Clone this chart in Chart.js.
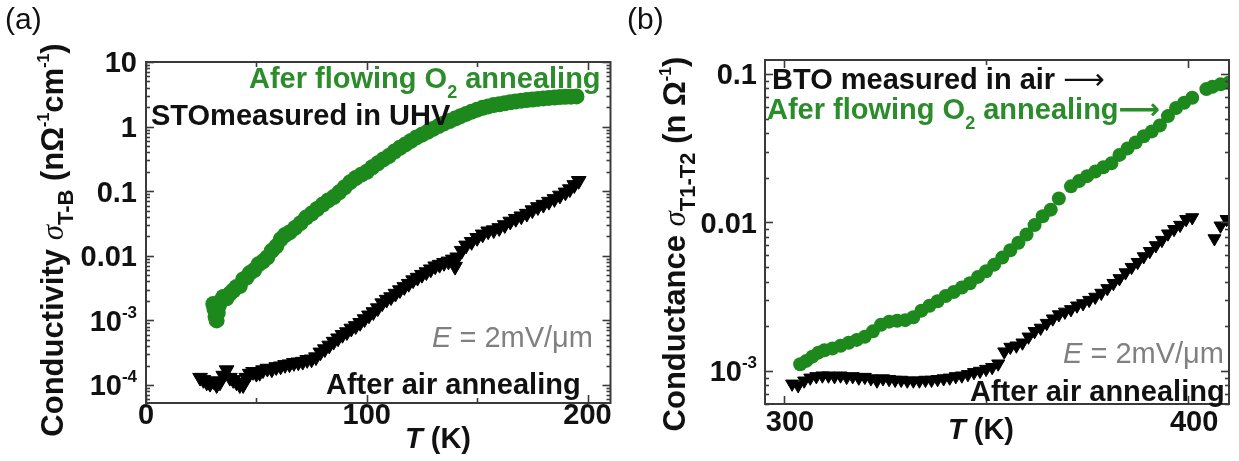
<!DOCTYPE html>
<html>
<head>
<meta charset="utf-8">
<script src="https://cdn.jsdelivr.net/npm/chart.js@4.4.1/dist/chart.umd.min.js"></script>
<style>
  html, body { margin: 0; padding: 0; background: #fff; }
  #wrap { position: relative; width: 1239px; height: 461px; overflow: hidden; }
  .panel { position: absolute; top: 0; height: 461px; }
  #pa { left: 0; width: 620px; }
  #pb { left: 620px; width: 619px; }
</style>
</head>
<body>
<div id="wrap">
  <div class="panel" id="pa"><canvas id="ca"></canvas></div>
  <div class="panel" id="pb"><canvas id="cb"></canvas></div>
</div>
<script>
// ---------- (a) STO measured in UHV: conductivity vs temperature ----------
const aGreenT = [30.5, 31, 31.5, 32, 32.5, 33, 34, 35, 36.5, 38, 39.5, 41, 42.5, 44, 45.5, 47, 49, 51, 53, 55,
  57, 59, 61, 63, 65, 67.5, 70, 72.5, 75, 77.5, 80, 82.5, 85, 87.5, 90, 92.5, 95, 97.5, 100, 102.5,
  105, 107.5, 110, 112.5, 115, 117.5, 120, 122.5, 125, 127.5, 130, 132.5, 135, 137.5, 140, 142.5, 145, 147.5, 150, 152.5,
  155, 157.5, 160, 162.5, 165, 167.5, 170, 172.5, 175, 177.5, 180, 182.5, 185, 187.5, 190, 192.5, 195];
const aGreenS = [1.8e-3, 1.5e-3, 1.15e-3, 1.0e-3, 1.3e-3, 1.7e-3, 2.0e-3, 2.3e-3, 2.2e-3, 2.6e-3, 2.9e-3, 3.3e-3, 3.4e-3, 4.3e-3, 4.6e-3, 5.4e-3, 6.0e-3, 7.4e-3, 8.2e-3, 9.5e-3,
  1.2e-2, 1.4e-2, 1.8e-2, 2.1e-2, 2.3e-2, 2.7e-2, 3.2e-2, 3.9e-2, 4.5e-2, 5.3e-2, 6.2e-2, 7.2e-2, 8.1e-2, 9.6e-2, 0.115, 0.138, 0.16, 0.18, 0.20, 0.235,
  0.27, 0.31, 0.35, 0.41, 0.47, 0.53, 0.60, 0.68, 0.75, 0.83, 0.92, 1.02, 1.12, 1.22, 1.33, 1.45, 1.57, 1.70, 1.83, 1.95,
  2.05, 2.15, 2.22, 2.30, 2.38, 2.45, 2.52, 2.58, 2.63, 2.68, 2.73, 2.78, 2.82, 2.86, 2.89, 2.91, 2.93];

const aBlackT = [24.5, 26, 27.5, 29, 30.5, 32, 33.5, 35, 36.5, 38, 39.5, 41, 42.5, 44, 45.5, 47, 48.5, 50, 51.5, 53,
  55, 57, 59, 61, 63, 65, 67, 69, 71, 73, 75, 77, 79, 81, 83, 85, 87, 89, 91, 93,
  95, 97, 99, 101, 103, 105, 107, 109, 111, 113, 115, 117, 119, 121, 123, 125, 127, 129, 131, 133,
  135, 137, 139, 140, 141, 143, 145, 147.5, 150, 152.5, 155, 157.5, 160, 162.5, 165, 167.5, 170, 172.5, 175, 177.5,
  180, 182.5, 185, 187.5, 190, 192, 194, 196];
const aBlackS = [1.3e-4, 1.2e-4, 1.1e-4, 1.05e-4, 1.15e-4, 1.0e-4, 1.1e-4, 1.4e-4, 1.7e-4, 1.3e-4, 1.2e-4, 1.1e-4, 1.0e-4, 1.0e-4, 1.3e-4, 1.5e-4, 1.6e-4, 1.5e-4, 1.55e-4, 1.7e-4,
  1.8e-4, 1.75e-4, 1.9e-4, 1.95e-4, 2.05e-4, 2.1e-4, 2.2e-4, 2.25e-4, 2.3e-4, 2.45e-4, 2.5e-4, 2.7e-4, 3.2e-4, 3.6e-4, 4.1e-4, 4.7e-4, 5.3e-4, 6.0e-4, 6.6e-4, 7.5e-4,
  8.2e-4, 9.2e-4, 1.05e-3, 1.2e-3, 1.35e-3, 1.55e-3, 1.85e-3, 2.1e-3, 2.3e-3, 2.6e-3, 2.95e-3, 3.3e-3, 3.7e-3, 4.2e-3, 4.6e-3, 5.1e-3, 5.6e-3, 6.2e-3, 6.9e-3, 7.3e-3,
  7.8e-3, 8.2e-3, 8.8e-3, 6.8e-3, 9.5e-3, 1.2e-2, 1.45e-2, 1.65e-2, 1.9e-2, 2.15e-2, 2.4e-2, 2.5e-2, 2.7e-2, 3.0e-2, 3.4e-2, 3.75e-2, 4.1e-2, 4.5e-2, 5.1e-2, 5.7e-2,
  6.2e-2, 6.9e-2, 7.6e-2, 8.6e-2, 9.6e-2, 0.108, 0.125, 0.145];

const aXTicks = [0, 100, 200];
const aXLabels = ['0', '100', '200'];
const aXMinor = [50, 150];
const aYTicks = [10, 1, 0.1, 0.01, 1e-3, 1e-4];
const aYLabels = ['10', '1', '0.1', '0.01', '10^-3', '10^-4'];

// ---------- (b) BTO measured in air: conductance vs temperature ----------
const bGreenT = [304, 305.5, 307, 308.5, 310, 312, 314, 316, 318, 320, 322, 324, 326, 328, 330, 332, 334, 336, 338, 340,
  342, 344, 346, 348, 350, 352, 354, 356, 358, 360, 362, 364, 366, 368, 371, 373, 375, 377, 379, 381,
  383, 385, 387, 389, 391, 393, 395, 397, 399, 401, 404.5, 406, 408, 410];
const bGreenS = [1.11e-3, 1.17e-3, 1.25e-3, 1.33e-3, 1.38e-3, 1.42e-3, 1.48e-3, 1.55e-3, 1.62e-3, 1.70e-3, 1.85e-3, 2.05e-3, 2.15e-3, 2.18e-3, 2.2e-3, 2.3e-3, 2.55e-3, 2.75e-3, 2.95e-3, 3.2e-3,
  3.4e-3, 3.65e-3, 3.9e-3, 4.3e-3, 4.7e-3, 5.2e-3, 5.8e-3, 6.5e-3, 7.3e-3, 8.3e-3, 9.6e-3, 1.1e-2, 1.22e-2, 1.45e-2, 1.75e-2, 1.9e-2, 2.05e-2, 2.2e-2, 2.35e-2, 2.5e-2,
  2.85e-2, 3.15e-2, 3.45e-2, 3.8e-2, 4.1e-2, 4.5e-2, 5.2e-2, 5.9e-2, 6.4e-2, 6.9e-2, 7.9e-2, 8.2e-2, 8.5e-2, 8.7e-2];

const bBlackT = [302, 303.5, 305, 306.5, 308, 309.5, 311, 312.5, 314, 315.5, 317, 318.5, 320, 321.5, 323, 324.5, 326, 327.5, 329, 330.5,
  332, 333.5, 335, 336.5, 338, 339.5, 341, 342.5, 344, 345.5, 347, 348.5, 350, 351.5, 353, 354.5, 356, 357.5, 359, 360.5,
  362, 363.5, 365, 366.5, 368, 369.5, 371, 372.5, 374, 375.5, 377, 378.5, 380, 381.5, 383, 384.5, 386, 387.5, 389, 390.5,
  392, 393.5, 395, 396.5, 398, 399.5, 401, 406.5, 408, 409.5];
const bBlackS = [8.2e-4, 8.0e-4, 8.6e-4, 9.0e-4, 9.2e-4, 9.3e-4, 9.3e-4, 9.2e-4, 9.3e-4, 9.1e-4, 9.2e-4, 9.0e-4, 9.1e-4, 8.9e-4, 8.6e-4, 8.9e-4, 8.8e-4, 8.7e-4, 8.7e-4, 8.6e-4,
  8.6e-4, 8.6e-4, 8.7e-4, 8.7e-4, 8.8e-4, 8.9e-4, 9.0e-4, 9.2e-4, 9.3e-4, 9.5e-4, 9.8e-4, 1.0e-3, 1.03e-3, 1.06e-3, 1.12e-3, 1.35e-3, 1.45e-3, 1.48e-3, 1.55e-3, 1.7e-3,
  1.85e-3, 1.95e-3, 2.1e-3, 2.25e-3, 2.4e-3, 2.5e-3, 2.6e-3, 2.75e-3, 2.85e-3, 3.0e-3, 3.15e-3, 3.35e-3, 3.6e-3, 3.9e-3, 4.2e-3, 4.6e-3, 5.0e-3, 5.4e-3, 5.9e-3, 6.4e-3,
  7.0e-3, 7.6e-3, 8.4e-3, 9.0e-3, 9.6e-3, 1.05e-2, 1.08e-2, 7.8e-3, 9.5e-3, 1.05e-2];

const bXTicks = [300, 400];
const bXLabels = ['300', '400'];
const bXMinor = [350];
const bYTicks = [0.1, 0.01, 1e-3];
const bYLabels = ['0.1', '0.01', '10^-3'];

// ---------- drawing helpers ----------
const FAM = '"Liberation Sans", Arial, Helvetica, sans-serif';
const GREEN = '#1d891d';
const GREEN_TXT = '#2b8c2b';
const GRAY = '#808080';
const AXIS = '#3a3a3a';

function S(t, size, o = {}) {
  const fam = o.fam || FAM;
  return { t, font: `${o.style || 'normal'} ${o.weight || 'bold'} ${size}px ${fam}`, dy: o.dy || 0, color: o.color || '#111' };
}
function richWidth(ctx, segs) {
  let w = 0;
  for (const s of segs) { ctx.font = s.font; w += ctx.measureText(s.t).width; }
  return w;
}
function drawRich(ctx, segs, x, y, align) {
  const w = richWidth(ctx, segs);
  let cx = align === 'center' ? x - w / 2 : align === 'right' ? x - w : x;
  ctx.textAlign = 'left';
  ctx.textBaseline = 'alphabetic';
  for (const s of segs) {
    ctx.font = s.font;
    ctx.fillStyle = s.color;
    ctx.fillText(s.t, cx, y + s.dy);
    cx += ctx.measureText(s.t).width;
  }
}
// "10^-3" -> base + raised exponent
function tickSegs(label, size) {
  const parts = label.split('^');
  const segs = [S(parts[0], size)];
  if (parts[1]) segs.push(S(parts[1], Math.round(size * 0.58), { dy: -Math.round(size * 0.45) }));
  return segs;
}
function zip(ts, vs) { return ts.map((t, i) => ({ x: t, y: vs[i] })); }

const framePlugin = {
  id: 'frame',
  afterDatasetsDraw(chart, args, o) {
    const { ctx, chartArea: a, scales: { x, y } } = chart;
    ctx.save();
    ctx.strokeStyle = AXIS;
    ctx.lineWidth = 1.6;
    const seg = (x1, y1, x2, y2) => { ctx.beginPath(); ctx.moveTo(x1, y1); ctx.lineTo(x2, y2); ctx.stroke(); };
    // inward ticks on all four sides
    const xt = o.xTicks.map(v => [v, 8]).concat(o.xMinor.map(v => [v, 5]));
    for (const [v, len] of xt) {
      const px = Math.round(x.getPixelForValue(v)) + 0.5;
      seg(px, a.bottom, px, a.bottom - len);
      seg(px, a.top, px, a.top + len);
    }
    const lo = Math.floor(Math.log10(y.min)), hi = Math.ceil(Math.log10(y.max));
    for (let d = lo; d <= hi; d++) {
      for (let m = 1; m <= 9; m++) {
        const v = m * Math.pow(10, d);
        if (v < y.min || v > y.max) continue;
        const py = Math.round(y.getPixelForValue(v)) + 0.5;
        const len = m === 1 ? 8 : 4;
        seg(a.left, py, a.left + len, py);
        seg(a.right, py, a.right - len, py);
      }
    }
    ctx.lineWidth = 2;
    ctx.strokeRect(a.left, a.top, a.right - a.left, a.bottom - a.top);
    ctx.restore();
  },
  afterDraw(chart, args, o) {
    const { ctx, chartArea: a, scales: { x, y } } = chart;
    ctx.save();
    // tick labels
    o.yTicks.forEach((v, i) => {
      drawRich(ctx, tickSegs(o.yLabels[i], o.tickSize), a.left - o.yGap, y.getPixelForValue(v) + o.tickSize * 0.36, 'right');
    });
    o.xTicks.forEach((v, i) => {
      drawRich(ctx, tickSegs(o.xLabels[i], o.tickSize), x.getPixelForValue(v) + o.xLabelShift, o.xLabelBase, 'center');
    });
    // axis titles and annotations
    for (const t of o.texts) {
      if (t.rotate) {
        ctx.save();
        ctx.translate(t.x, t.y);
        ctx.rotate(t.rotate);
        drawRich(ctx, t.segs, 0, 0, t.align || 'left');
        ctx.restore();
      } else {
        drawRich(ctx, t.segs, t.x, t.y, t.align || 'left');
      }
    }
    ctx.restore();
  }
};

function makePanel(id, cfg) {
  return new Chart(document.getElementById(id), {
    type: 'scatter',
    data: { datasets: cfg.datasets },
    options: {
      responsive: true,
      maintainAspectRatio: false,
      animation: false,
      events: [],
      layout: { padding: cfg.pad },
      plugins: { legend: { display: false }, tooltip: { enabled: false }, frame: cfg.frame },
      scales: {
        x: { type: 'linear', display: false, min: cfg.xmin, max: cfg.xmax },
        y: { type: 'logarithmic', display: false, min: cfg.ymin, max: cfg.ymax }
      }
    },
    plugins: [framePlugin]
  });
}

const greenStyle = (r) => ({ pointStyle: 'circle', pointRadius: r, backgroundColor: GREEN, borderColor: GREEN, borderWidth: 0, showLine: false });
const blackStyle = (r) => ({ pointStyle: 'triangle', pointRotation: 180, pointRadius: r, backgroundColor: '#000', borderColor: '#000', borderWidth: 1, showLine: false });
const ARROW_FAM = '"DejaVu Sans", sans-serif';

// panel (a)
makePanel('ca', {
  pad: { left: 146, top: 62, right: 9, bottom: 58 },
  xmin: 0, xmax: 210.4,
  ymin: 5.26e-5, ymax: 10,
  datasets: [
    Object.assign({ label: 'After air annealing', data: zip(aBlackT, aBlackS) }, blackStyle(8.5)),
    Object.assign({ label: 'After flowing O2 annealing', data: zip(aGreenT, aGreenS) }, greenStyle(8))
  ],
  frame: {
    xTicks: aXTicks, xLabels: aXLabels, xMinor: aXMinor,
    yTicks: aYTicks, yLabels: aYLabels,
    tickSize: 29, yGap: 9, xLabelBase: 424, xLabelShift: 0,
    texts: [
      { x: 5, y: 29, segs: [S('(a)', 30, { weight: 'normal' })] },
      { x: 249, y: 88, segs: [S('Afer flowing O', 29, { color: GREEN_TXT }), S('2', 18, { color: GREEN_TXT, dy: 10 }), S(' annealing', 29, { color: GREEN_TXT })] },
      { x: 151, y: 125, segs: [S('STOmeasured in UHV', 29)] },
      { x: 432, y: 347, segs: [S('E', 29, { weight: 'normal', style: 'italic', color: GRAY }), S(' = 2mV/\u03BCm', 29, { weight: 'normal', color: GRAY })] },
      { x: 326, y: 394, segs: [S('After air annealing', 29)] },
      { x: 438, y: 448, align: 'center', segs: [S('T', 29, { style: 'italic' }), S(' (K)', 29)] },
      { x: 63, y: 240, rotate: -Math.PI / 2, align: 'center', segs: [
        S('Conductivity ', 31), S('\u03C3', 31, { weight: 'normal', style: 'italic', fam: '"Liberation Serif", serif' }),
        S('T-B', 22, { dy: 10 }), S(' (n\u03A9', 31), S('-1', 16, { dy: -14 }), S('cm', 31), S('-1', 16, { dy: -14 }), S(')', 31)] }
    ]
  }
});

// panel (b)
makePanel('cb', {
  pad: { left: 145, top: 60, right: 10, bottom: 57 },
  xmin: 295.3, xmax: 410.1,
  ymin: 6.1e-4, ymax: 0.124,
  datasets: [
    Object.assign({ label: 'After air annealing', data: zip(bBlackT, bBlackS) }, blackStyle(7.5)),
    Object.assign({ label: 'After flowing O2 annealing', data: zip(bGreenT, bGreenS) }, greenStyle(7))
  ],
  frame: {
    xTicks: bXTicks, xLabels: bXLabels, xMinor: bXMinor,
    yTicks: bYTicks, yLabels: bYLabels,
    tickSize: 29, yGap: 8, xLabelBase: 431, xLabelShift: 6,
    texts: [
      { x: 7, y: 29, segs: [S('(b)', 30, { weight: 'normal' })] },
      { x: 152, y: 89, segs: [S('BTO measured in air ', 29), S('\u27F6', 29, { weight: 'normal', fam: ARROW_FAM })] },
      { x: 147, y: 119, segs: [S('Afer flowing O', 29, { color: GREEN_TXT }), S('2', 18, { color: GREEN_TXT, dy: 10 }), S(' annealing', 29, { color: GREEN_TXT }), S('\u27F6', 29, { weight: 'bold', color: GREEN_TXT, fam: ARROW_FAM })] },
      { x: 443, y: 363, segs: [S('E', 29, { weight: 'normal', style: 'italic', color: GRAY }), S(' = 2mV/\u03BCm', 29, { weight: 'normal', color: GRAY })] },
      { x: 350, y: 401, segs: [S('After air annealing', 29)] },
      { x: 361, y: 439, align: 'center', segs: [S('T', 29, { style: 'italic' }), S(' (K)', 29)] },
      { x: 65, y: 244, rotate: -Math.PI / 2, align: 'center', segs: [
        S('Conductance ', 31), S('\u03C3', 31, { weight: 'normal', style: 'italic', fam: '"Liberation Serif", serif' }),
        S('T1-T2', 22, { dy: 10 }), S(' (n \u03A9', 31), S('-1', 16, { dy: -14 }), S(')', 31)] }
    ]
  }
});
</script>
</body>
</html>
